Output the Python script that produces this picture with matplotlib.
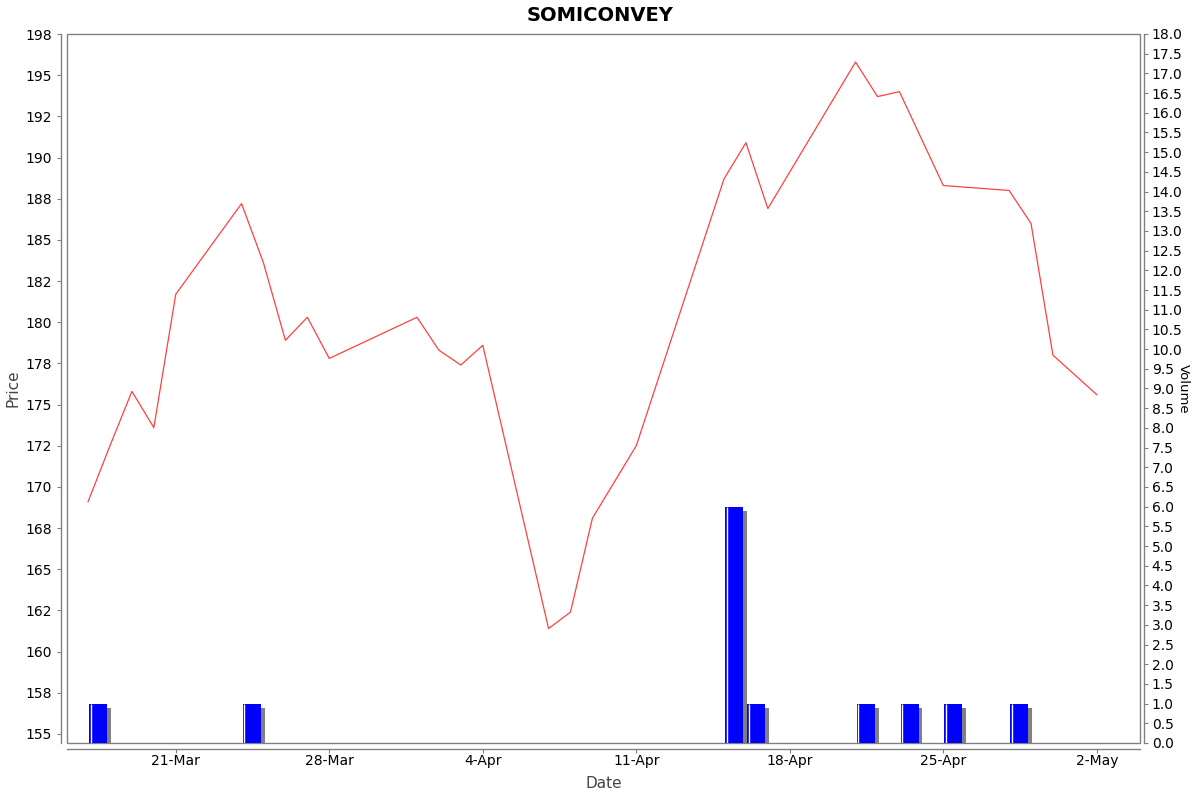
import matplotlib.pyplot as plt
import matplotlib.dates as mdates
from matplotlib.patches import Rectangle
import datetime as dt

# price data
price_dates = ["2024-03-17", "2024-03-18", "2024-03-19", "2024-03-20", "2024-03-21",
               "2024-03-24", "2024-03-25", "2024-03-26", "2024-03-27", "2024-03-28",
               "2024-04-01", "2024-04-02", "2024-04-03", "2024-04-04",
               "2024-04-07", "2024-04-08", "2024-04-09", "2024-04-11",
               "2024-04-15", "2024-04-16", "2024-04-17",
               "2024-04-21", "2024-04-22", "2024-04-23", "2024-04-25",
               "2024-04-28", "2024-04-29", "2024-04-30", "2024-05-02"]
prices = [169.1, 172.5, 175.8, 173.6, 181.7,
          187.2, 183.6, 178.9, 180.3, 177.8,
          180.3, 178.3, 177.4, 178.6,
          161.4, 162.4, 168.1, 172.5,
          188.7, 190.9, 186.9,
          195.8, 193.7, 194.0, 188.3,
          188.0, 186.0, 178.0, 175.6]

# volume data
volume_dates = ["2024-03-17", "2024-03-24", "2024-04-15", "2024-04-16",
                "2024-04-21", "2024-04-23", "2024-04-25", "2024-04-28"]
volumes = [1.0, 1.0, 6.0, 1.0, 1.0, 1.0, 1.0, 1.0]

xtick_dates = ["2024-03-21", "2024-03-28", "2024-04-04", "2024-04-11",
               "2024-04-18", "2024-04-25", "2024-05-02"]

to_num = lambda s: mdates.date2num(dt.datetime.strptime(s, "%Y-%m-%d"))
px = [to_num(d) for d in price_dates]
vx = [to_num(d) for d in volume_dates]
tx = [to_num(d) for d in xtick_dates]

gray = "#808080"
label_col = "#444444"

fig = plt.figure(figsize=(12, 7.92), dpi=100)
ax = fig.add_axes([67 / 1200, 1 - 743 / 792, (1140 - 67) / 1200, (743 - 34) / 792])
ax2 = ax.twinx()

# price line
ax.plot(px, prices, color="#ff4040", lw=0.9, zorder=3)
ax.set_ylim(154.45, 197.5)
pticks = [155 + 2.5 * i for i in range(18)]
ax.set_yticks(pticks)
ax.set_yticklabels([str(round(t)) for t in pticks], fontsize=9, color=label_col)

d0 = tx[0]
ax.set_xlim(d0 - 4.96, d0 + 43.97)
ax.set_xticks(tx)
ax.set_xticklabels([mdates.num2date(t).strftime("%-d-%b") for t in tx],
                   fontsize=9, color=label_col)

# volume bars with shadow
ax2.set_ylim(0, 18)
for x, v in zip(vx, volumes):
    ax2.bar(x + 0.23, v - 0.1, width=0.82, align="edge", color=gray, zorder=1)
    ax2.bar(x + 0.05, v, width=0.82, align="edge", color="#0000ff", zorder=2)
    ax2.vlines(x + 0.12, 0, v, color="white", lw=1.0, zorder=3)
vticks = [0.5 * i for i in range(37)]
ax2.set_yticks(vticks)
ax2.set_yticklabels(["%.1f" % t for t in vticks], fontsize=6.8, color="black")

# axes style
for a in (ax, ax2):
    for s in a.spines.values():
        s.set_visible(False)
ax.spines["left"].set_visible(True)
ax.spines["bottom"].set_visible(True)
ax.spines["left"].set_position(("outward", 4))
ax.spines["bottom"].set_position(("outward", 4))
ax2.spines["right"].set_visible(True)
ax2.spines["right"].set_position(("outward", 3))
for s in (ax.spines["left"], ax.spines["bottom"], ax2.spines["right"]):
    s.set_color(gray)
    s.set_linewidth(1.0)
ax.tick_params(axis="y", direction="out", length=3, color=gray, pad=4)
ax.tick_params(axis="x", direction="out", length=3, color=gray, pad=1)
ax2.tick_params(axis="y", direction="out", length=3, color=gray, pad=2.5)
ax.add_patch(Rectangle((0, 0), 1, 1, transform=ax.transAxes, fill=False,
                       edgecolor=gray, lw=1.0, clip_on=False, zorder=5))

ax.set_ylabel("Price", fontsize=11, color=label_col)
ax.yaxis.set_label_coords(-0.0438, 0.5)
ax.set_xlabel("Date", fontsize=11, color=label_col)
ax.xaxis.set_label_coords(0.5, -0.0465)
ax2.set_ylabel("Volume", fontsize=9.5, color="black", rotation=270, va="center")
ax2.yaxis.set_label_coords(1.040, 0.5)
fig.suptitle("SOMICONVEY", fontsize=14, fontweight="bold", y=0.993)

fig.savefig("out.png", dpi=100)
